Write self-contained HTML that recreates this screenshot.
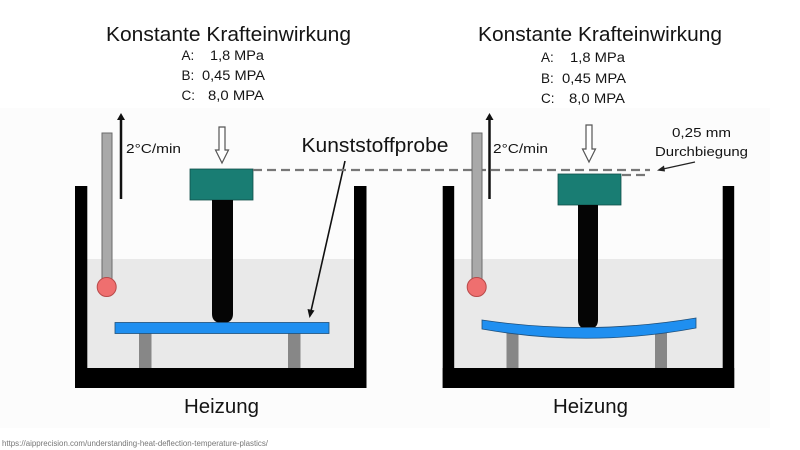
<!DOCTYPE html>
<html><head><meta charset="utf-8"><style>
html,body{margin:0;padding:0;background:#fff;}
svg{display:block;}
text{font-family:"Liberation Sans",sans-serif;fill:#141414;}
</style></head><body>
<svg width="800" height="450" viewBox="0 0 800 450" xmlns="http://www.w3.org/2000/svg">
<rect x="0" y="0" width="800" height="450" fill="#fff"/>
<rect x="0" y="108" width="770" height="320" fill="#fcfcfc"/>

<!-- Titles -->
<text x="106" y="41" font-size="20" textLength="245" lengthAdjust="spacingAndGlyphs">Konstante Krafteinwirkung</text>
<text x="181.5" y="60" font-size="13.5">A:</text>
<text x="210" y="60" font-size="13.5" textLength="54" lengthAdjust="spacingAndGlyphs">1,8 MPa</text>
<text x="181.5" y="80" font-size="13.5">B:</text>
<text x="202" y="80" font-size="13.5" textLength="63" lengthAdjust="spacingAndGlyphs">0,45 MPA</text>
<text x="181.5" y="100" font-size="13.5">C:</text>
<text x="208" y="100" font-size="13.5" textLength="56" lengthAdjust="spacingAndGlyphs">8,0 MPA</text>

<text x="478" y="41" font-size="20" textLength="244" lengthAdjust="spacingAndGlyphs">Konstante Krafteinwirkung</text>
<text x="541" y="62" font-size="13.5">A:</text>
<text x="570" y="62" font-size="13.5" textLength="55" lengthAdjust="spacingAndGlyphs">1,8 MPa</text>
<text x="541" y="83" font-size="13.5">B:</text>
<text x="562" y="83" font-size="13.5" textLength="64" lengthAdjust="spacingAndGlyphs">0,45 MPA</text>
<text x="541" y="103" font-size="13.5">C:</text>
<text x="569" y="103" font-size="13.5" textLength="56" lengthAdjust="spacingAndGlyphs">8,0 MPA</text>

<!-- ===== LEFT TANK ===== -->
<rect x="87" y="259" width="267" height="109" fill="#e9e9e9"/>
<rect x="102" y="133" width="10" height="150" fill="#a9a9a9" stroke="#6a6a6a" stroke-width="1"/>
<circle cx="106.7" cy="287" r="9.5" fill="#ef6f6f" stroke="#b84a4a" stroke-width="1"/>
<line x1="121" y1="199" x2="121" y2="118" stroke="#111" stroke-width="2.5"/>
<polygon points="121,113 117,120 125,120" fill="#111"/>
<text x="126" y="153" font-size="13" textLength="55" lengthAdjust="spacingAndGlyphs">2°C/min</text>
<path d="M219,127 H225 V150 H228.5 L222,163 L215.5,150 H219 Z" fill="#fff" stroke="#555" stroke-width="1.2"/>
<rect x="190" y="169" width="63" height="31" fill="#197d73" stroke="#0f4f49" stroke-width="0.8"/>
<path d="M212,200 H233 V314 Q233,323 222.5,323 Q212,323 212,314 Z" fill="#050505"/>
<rect x="139" y="333" width="12.5" height="35" fill="#878787"/>
<rect x="288" y="333" width="12.5" height="35" fill="#878787"/>
<rect x="115" y="322.5" width="214" height="11" fill="#1f8ff0" stroke="#1f4f7a" stroke-width="0.8"/>
<rect x="75" y="186" width="12.3" height="202" fill="#000"/>
<rect x="354" y="186" width="12.5" height="202" fill="#000"/>
<rect x="75" y="368" width="291.5" height="20" fill="#000"/>
<text x="184" y="413" font-size="20" textLength="75" lengthAdjust="spacingAndGlyphs">Heizung</text>

<!-- Kunststoffprobe -->
<text x="301.5" y="152" font-size="20" textLength="147" lengthAdjust="spacingAndGlyphs">Kunststoffprobe</text>
<line x1="345" y1="161" x2="311" y2="311" stroke="#111" stroke-width="1.6"/>
<polygon points="309.5,318 307.5,309 314.5,310.5" fill="#111"/>

<!-- dashed reference lines -->
<line x1="253" y1="170" x2="650" y2="170" stroke="#777" stroke-width="2.3" stroke-dasharray="9,5"/>
<line x1="622" y1="175" x2="650" y2="175" stroke="#777" stroke-width="2.3" stroke-dasharray="9,5"/>

<!-- ===== RIGHT TANK ===== -->
<rect x="454" y="259" width="269" height="109" fill="#e9e9e9"/>
<rect x="472" y="133" width="10" height="150" fill="#a9a9a9" stroke="#6a6a6a" stroke-width="1"/>
<circle cx="476.7" cy="287" r="9.5" fill="#ef6f6f" stroke="#b84a4a" stroke-width="1"/>
<line x1="489.5" y1="199" x2="489.5" y2="118" stroke="#111" stroke-width="2.5"/>
<polygon points="489.5,113 485.5,120 493.5,120" fill="#111"/>
<text x="493" y="153" font-size="13" textLength="55" lengthAdjust="spacingAndGlyphs">2°C/min</text>
<path d="M586,125 H592 V149 H595.5 L589,162 L582.5,149 H586 Z" fill="#fff" stroke="#555" stroke-width="1.2"/>
<rect x="558" y="174" width="63" height="31" fill="#197d73" stroke="#0f4f49" stroke-width="0.8"/>
<path d="M578,205 H598 V320 Q598,329 588,329 Q578,329 578,320 Z" fill="#050505"/>
<rect x="506.5" y="333" width="12" height="35" fill="#878787"/>
<rect x="655" y="333" width="12" height="35" fill="#878787"/>
<path d="M482,320 Q589,336 696,318 L696,328 Q589,348 482,329 Z" fill="#1f8ff0" stroke="#1f4f7a" stroke-width="0.8"/>
<rect x="442.7" y="186" width="11.5" height="202" fill="#000"/>
<rect x="722.7" y="186" width="11.5" height="202" fill="#000"/>
<rect x="442.7" y="368" width="291.5" height="20" fill="#000"/>
<text x="553" y="413" font-size="20" textLength="75" lengthAdjust="spacingAndGlyphs">Heizung</text>

<!-- Durchbiegung -->
<text x="672" y="137" font-size="13" textLength="59" lengthAdjust="spacingAndGlyphs">0,25 mm</text>
<text x="655" y="156" font-size="13" textLength="93" lengthAdjust="spacingAndGlyphs">Durchbiegung</text>
<line x1="695" y1="162" x2="663" y2="169" stroke="#222" stroke-width="1.2"/>
<polygon points="657,170.5 664,165.5 665,171.5" fill="#222"/>

<!-- URL -->
<text x="2" y="446" font-size="8" style="fill:#777" textLength="266" lengthAdjust="spacingAndGlyphs">https://aipprecision.com/understanding-heat-deflection-temperature-plastics/</text>
</svg>
</body></html>
